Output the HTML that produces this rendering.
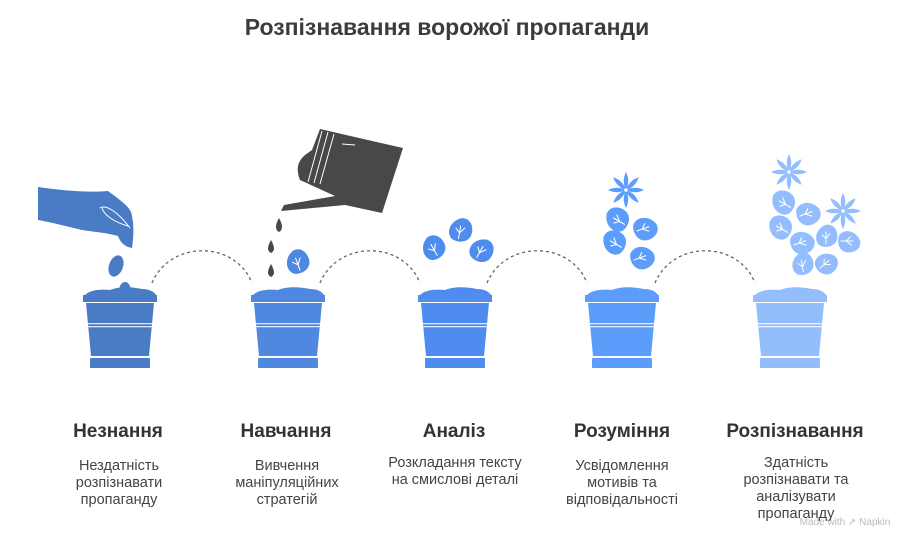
<!DOCTYPE html>
<html><head><meta charset="utf-8"><style>
body{margin:0;background:#fff;width:912px;height:550px;overflow:hidden;font-family:"Liberation Sans",Arial,sans-serif}
svg{position:absolute;left:0;top:0}
</style></head><body>
<svg width="912" height="550" viewBox="0 0 912 550">
<defs>
<g id="pot">
<path d="M-35,295 C-30,290 -20,289 -10,290 C0,286 12,287 22,289 C30,289 34,292 36,295 Z"/>
<rect x="-37" y="295" width="74" height="7"/>
<path d="M-34,303 L34,303 L29,356 L-29,356 Z"/>
<rect x="-30" y="358" width="60" height="10" rx="1"/>
<rect x="-33" y="323" width="66" height="1.3" fill="#fff" opacity="0.8"/>
<rect x="-33" y="326" width="66" height="1.3" fill="#fff" opacity="0.8"/>
</g>
<g id="leaf">
<path d="M0,-8 C6,-9 9,-3 8,2 C7,7 1,9 -4,7 C-9,4 -8,-5 0,-8Z"/>
<path d="M0,6 L0,-3 M0,2 L-3,-1 M0,2 L3,-2" stroke="#fff" stroke-width="0.7" fill="none"/>
</g>
<g id="petal"><path d="M0,0 C-3,-6 -2,-11 0,-15 C2,-11 3,-6 0,0Z"/></g>
<g id="flower">
<use href="#petal"/><use href="#petal" transform="rotate(45)"/><use href="#petal" transform="rotate(90)"/><use href="#petal" transform="rotate(135)"/><use href="#petal" transform="rotate(180)"/><use href="#petal" transform="rotate(225)"/><use href="#petal" transform="rotate(270)"/><use href="#petal" transform="rotate(315)"/>
<circle r="1.5" fill="#fff"/>
</g>
</defs>
<text x="447" y="35" text-anchor="middle" font-size="23" font-weight="bold" fill="#3c3c3c">Розпізнавання ворожої пропаганди</text>

<g fill="none" stroke="#666" stroke-width="1.3" stroke-dasharray="3,3">
<path d="M152,283 C170,240 235,240 252,283"/>
<path d="M320,283 C338,240 403,240 420,283"/>
<path d="M487,283 C505,240 570,240 587,283"/>
<path d="M655,283 C673,240 738,240 755,283"/>
</g>

<g fill="#4a7cc6">
<use href="#pot" transform="translate(120,0)"/>
<path d="M38,187 C60,190 85,193 108,191 C116,197 128,205 131,212 C134,222 134,235 132,248 C126,247 121,244 118,236 C108,233 95,232 82,230 C65,226 50,222 38,220 Z"/>
<ellipse cx="116" cy="266" rx="7" ry="11" transform="rotate(20 116 266)"/>
<ellipse cx="125" cy="291" rx="6" ry="9"/>
<path d="M100,208 C106,204 118,212 130,228 M102,208 C104,215 114,222 128,226" stroke="#fff" stroke-width="1" fill="none"/>
</g>
<g fill="#5088e0">
<use href="#pot" transform="translate(288,0)"/>
<use href="#leaf" transform="translate(297,262) rotate(-20) scale(1.5)"/>
</g>
<g fill="#484848">
<path d="M320,129 L403,148 L382,213 L345,205 L281,211 L284,205 L335,196 L300,180 C296,170 297,162 305,155 L312,150 Z"/>
<path d="M279,218 C275,225 275,230 279,232 C283,230 283,225 279,218Z"/>
<path d="M271,240 C267,247 267,251 271,253 C275,251 275,247 271,240Z"/>
<path d="M271,264 C267,271 267,275 271,277 C275,275 275,271 271,264Z"/>
</g>
<path d="M322,131 L308,182 M328,132 L314,183 M334,134 L320,184 M342,144 L355,145" stroke="#fff" stroke-width="1"/>
<g fill="#4f8cef">
<use href="#pot" transform="translate(455,0)"/>
<use href="#leaf" transform="translate(433,248) rotate(-30) scale(1.5)"/>
<use href="#leaf" transform="translate(460,230) rotate(10) scale(1.5)"/>
<use href="#leaf" transform="translate(481,250) rotate(30) scale(1.5)"/>
</g>
<g fill="#5c9cfb">
<use href="#pot" transform="translate(622,0)"/>
<use href="#flower" transform="translate(626,190) scale(1.2)"/>
<use href="#leaf" transform="translate(617,220) rotate(-60) scale(1.5)"/>
<use href="#leaf" transform="translate(645,228) rotate(70) scale(1.5)"/>
<use href="#leaf" transform="translate(614,243) rotate(-60) scale(1.5)"/>
<use href="#leaf" transform="translate(642,257) rotate(70) scale(1.5)"/>
</g>
<g fill="#94bdfd">
<use href="#pot" transform="translate(790,0)"/>
<use href="#flower" transform="translate(789,172) scale(1.2)"/>
<use href="#flower" transform="translate(843,211) scale(1.2)"/>
<use href="#leaf" transform="translate(783,203) rotate(-60) scale(1.5)"/>
<use href="#leaf" transform="translate(808,213) rotate(70) scale(1.5)"/>
<use href="#leaf" transform="translate(780,228) rotate(-60) scale(1.5)"/>
<use href="#leaf" transform="translate(802,242) rotate(70) scale(1.5)"/>
<use href="#leaf" transform="translate(826,236) rotate(0) scale(1.4)"/>
<use href="#leaf" transform="translate(849,241) rotate(90) scale(1.4)"/>
<use href="#leaf" transform="translate(802,264) rotate(-10) scale(1.4)"/>
<use href="#leaf" transform="translate(826,263) rotate(50) scale(1.4)"/>
</g>

<g font-size="19" font-weight="bold" fill="#333" text-anchor="middle">
<text x="118" y="437">Незнання</text>
<text x="286" y="437">Навчання</text>
<text x="454" y="437">Аналіз</text>
<text x="622" y="437">Розуміння</text>
<text x="795" y="437">Розпізнавання</text>
</g>
<g font-size="14.5" fill="#444" text-anchor="middle">
<text x="119" y="470">Нездатність</text><text x="119" y="487">розпізнавати</text><text x="119" y="504">пропаганду</text>
<text x="287" y="470">Вивчення</text><text x="287" y="487">маніпуляційних</text><text x="287" y="504">стратегій</text>
<text x="455" y="467">Розкладання тексту</text><text x="455" y="484">на смислові деталі</text>
<text x="622" y="470">Усвідомлення</text><text x="622" y="487">мотивів та</text><text x="622" y="504">відповідальності</text>
<text x="796" y="467">Здатність</text><text x="796" y="484">розпізнавати та</text><text x="796" y="501">аналізувати</text><text x="796" y="518">пропаганду</text>
</g>
<text x="845" y="525" font-size="10" fill="#bbb" text-anchor="middle">Made with ➚ Napkin</text>
</svg>
</body></html>
